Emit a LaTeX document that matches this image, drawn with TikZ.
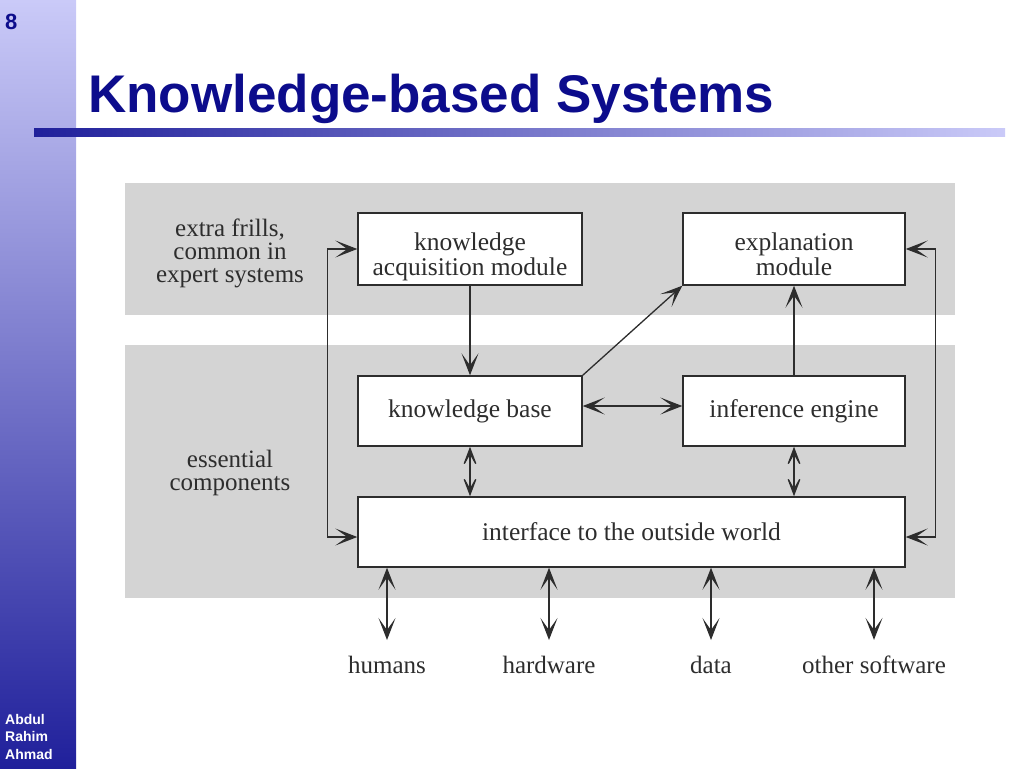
\documentclass[tikz,border=0pt]{standalone}
\usepackage{fontspec}
\setmainfont{Liberation Serif}
\newfontfamily\slidefont{Liberation Sans}
\usepackage{tikz}
\usetikzlibrary{arrows.meta, positioning, calc}

\definecolor{navy}{RGB}{12,12,140}
\definecolor{lav}{RGB}{202,202,248}
\definecolor{barmid}{RGB}{140,140,208}
\definecolor{bardark}{RGB}{32,32,155}
\definecolor{band}{RGB}{212,212,212}
\definecolor{ink}{RGB}{45,45,45}

\tikzset{
    barb/.tip={Stealth[length=22pt, width=17pt, inset=12pt]},
    dbarb/.tip={Stealth[length=25pt, width=19pt, inset=17pt]}
}

\begin{document}
\begin{tikzpicture}[x=1pt, y=-1pt,
    box/.style={draw=ink, line width=1.4pt, fill=white, inner sep=0pt, align=center,
        text=ink, font=\fontsize{25.5}{25}\selectfont},
    twoline/.style={text height=59pt, text depth=5.5pt},
    lbl/.style={align=center, inner sep=0pt, text=ink, font=\fontsize{25}{23}\selectfont},
    arr/.style={-barb, line width=1.3pt, draw=ink},
    dbl/.style={barb-barb, line width=1.3pt, draw=ink},
    dia/.style={dbarb-dbarb, line width=1.3pt, draw=ink}]
    \useasboundingbox (0,0) rectangle (1024,768);
    % slide frame
    \shade[top color=lav, middle color=barmid, bottom color=bardark] (0,0) rectangle (76,768);
    \shade[left color=bardark, right color=lav] (34,128) rectangle (1005,136);
    \node[anchor=base west, inner sep=0pt, text=navy, font=\slidefont\bfseries\fontsize{22}{22}\selectfont] (pgno) at (5,30) {8};
    \node[anchor=base west, inner sep=0pt, text=navy, font=\slidefont\bfseries\fontsize{53}{53}\selectfont] (title) at (88,112) {Knowledge-based Systems};
    \node[anchor=north west, inner sep=0pt, align=left, text=white, font=\slidefont\bfseries\fontsize{14}{17.5}\selectfont] (author) at (5,714) {Abdul\\Rahim\\Ahmad};
    % grey bands
    \fill[band] (125,183) rectangle (955,315);
    \fill[band] (125,345) rectangle (955,598);
    % boxes
    \node[box, twoline, minimum width=224pt, minimum height=72pt] (kam) at (470,249) {knowledge\\acquisition module};
    \node[box, twoline, minimum width=222pt, minimum height=72pt] (expl) at (794,249) {explanation\\module};
    \node[box, minimum width=224pt, minimum height=70pt] (kb) at (470,411) {knowledge base};
    \node[box, minimum width=222pt, minimum height=70pt] (inf) at (794,411) {inference engine};
    \node[box, minimum width=547pt, minimum height=70pt] (iface) at (631.5,532) {interface to the outside world};
    % side labels
    \node[lbl] (frills) at (230,253) {extra frills,\\common in\\expert systems};
    \node[lbl] (essent) at (230,473) {essential\\components};
    % outside world
    \node[lbl] (hum) at (387,665) {humans};
    \node[lbl] (hw) at (549,665) {hardware};
    \node[lbl] (dat) at (711,665) {data};
    \node[lbl] (osw) at (874,665) {other software};
    % connectors
    \draw[arr] (kam) -- (kb);
    \draw[arr] (kb.north east) -- (expl.south west);
    \draw[arr] (inf) -- (expl);
    \draw[dbl] ([yshift=5pt]kb.east) -- ([yshift=5pt]inf.west);
    \draw[dia] (kb.south) -- (kb.south |- iface.north);
    \draw[dia] (inf.south) -- (inf.south |- iface.north);
    \draw[dbl] (kam.west) -- ++(-30,0) |- ([yshift=-5pt]iface.west);
    \draw[dbl] (expl.east) -- ++(30,0) |- ([yshift=-5pt]iface.east);
    \foreach \o in {hum,hw,dat,osw} {
        \draw[dbl] (\o |- iface.south) -- ([yshift=16pt]\o.north);
    }
\end{tikzpicture}
\end{document}
